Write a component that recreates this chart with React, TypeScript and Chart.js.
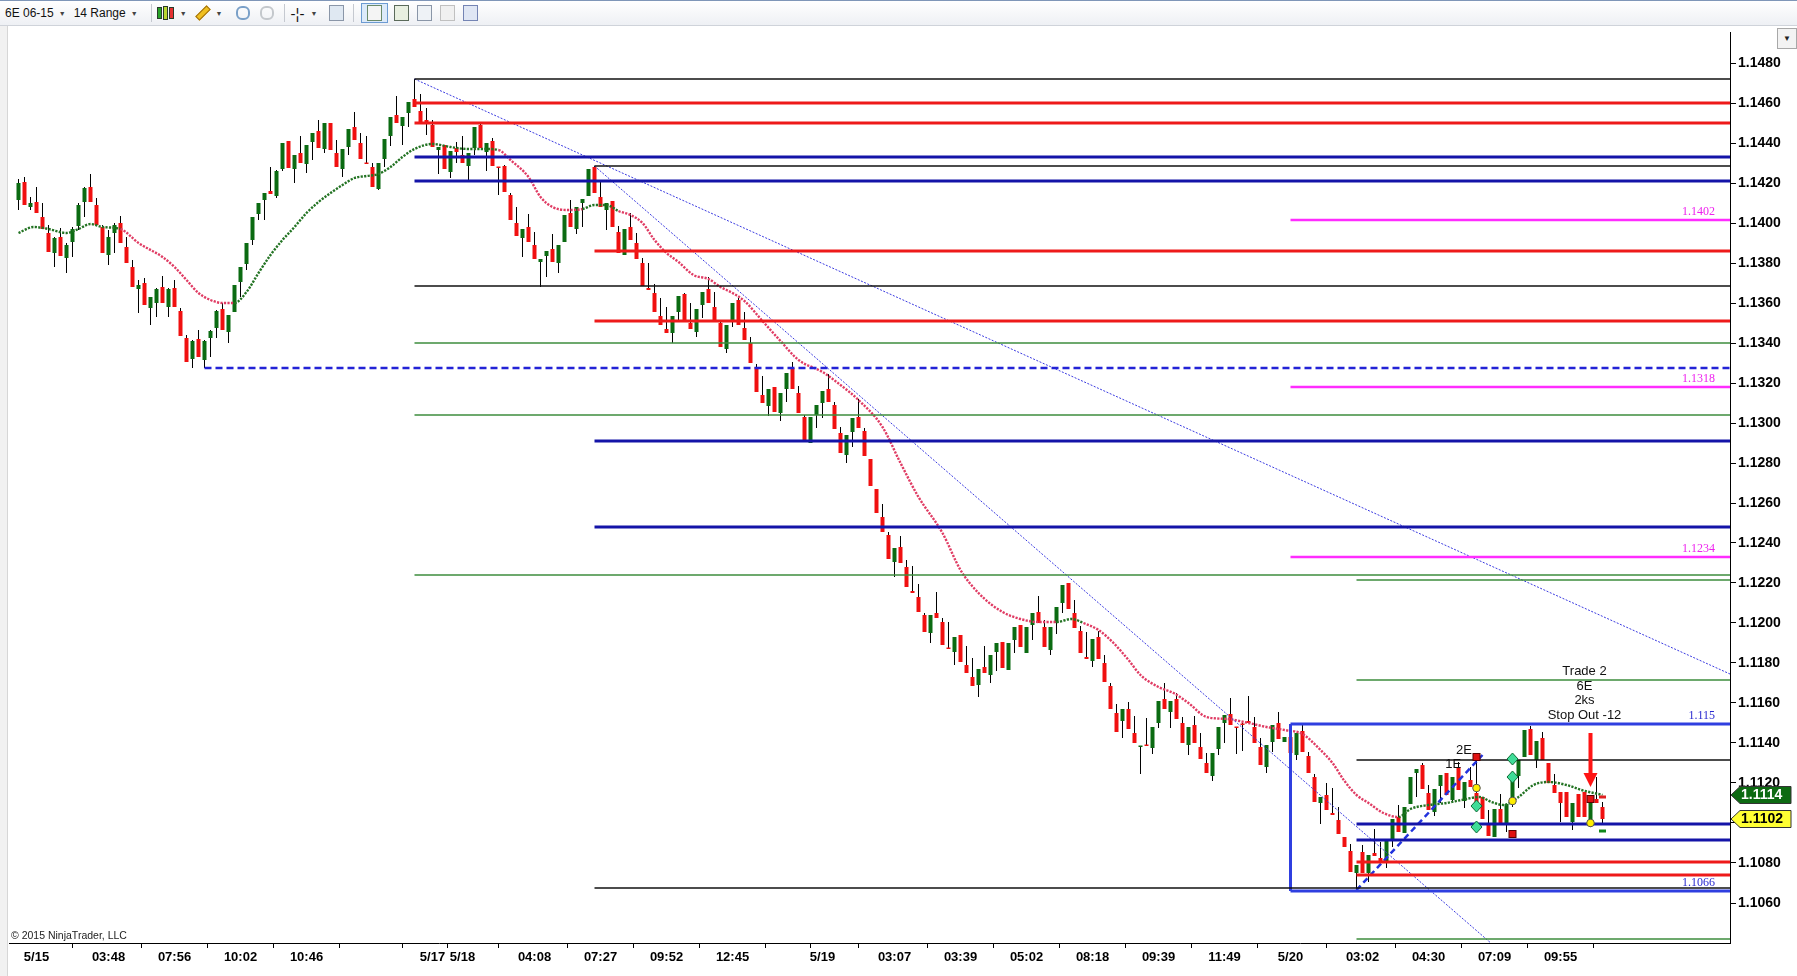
import { useEffect, useRef } from "react";
import { Chart, registerables } from "chart.js";

Chart.register(...registerables);

const BASE = 1.1;
const PIP = 0.0001;
const toPrice = (pips: number) => BASE + pips * PIP;

const X_MIN = -1.5833;
const X_MAX = 285.25;
const Y_MIN = 1.104;
const Y_MAX = 1.14955;

// time axis: bar index of each tick and its label
const X_TICK_BARS = [3, 15, 26, 37, 48, 59, 69, 74, 86, 97, 108, 119, 130, 134, 146, 157, 168, 179, 190, 201, 212, 224, 235, 246, 257];
const X_TICK_LABELS = ["5/15", "03:48", "07:56", "10:02", "10:46", "", "5/17", "5/18", "04:08", "07:27", "09:52", "12:45", "", "5/19", "03:07", "03:39", "05:02", "08:18", "09:39", "11:49", "5/20", "03:02", "04:30", "07:09", "09:55"];

const Y_TICKS = [1.106, 1.108, 1.11, 1.112, 1.114, 1.116, 1.118, 1.12, 1.122, 1.124, 1.126, 1.128, 1.13, 1.132, 1.134, 1.136, 1.138, 1.14, 1.142, 1.144, 1.146, 1.148];

const OPEN = [
  411.5, 420.5, 408, 410.5, 403, 395, 385, 393, 382.5, 390.5,
  398.5, 410.5, 418, 409, 398, 384, 395, 400, 388, 378,
  367, 370, 357.5, 360, 368, 358, 367.5, 356, 342.5, 332,
  342, 331.5, 342.5, 347.5, 357, 345.5, 355.5, 370.5, 379.5, 391.5,
  404.5, 411.5, 416, 413.5, 427, 441, 427, 435, 429.5, 440.5,
  446, 437, 450, 435, 427, 438, 448, 440, 430, 428,
  417, 432, 443.5, 454, 448.5, 455, 462, 456, 451.5, 449,
  436.5, 439, 425.5, 437.5, 434, 428.5, 437.5, 449, 435.5, 441,
  428, 428.5, 414, 400, 392.5, 398, 389, 380.5, 383.5, 387,
  380, 390.5, 405, 397, 410, 413.5, 428, 413, 406.5, 411,
  395.5, 384, 398, 390, 380, 367.5, 365, 353.5, 347, 345,
  355.5, 364.5, 350, 345.5, 359, 367, 358, 350, 337, 351,
  361.5, 347.5, 340, 328, 314, 308.5, 318, 305, 317, 327.5,
  315, 303, 290, 304, 310, 317, 309, 295, 284, 295.5,
  303, 296, 282, 267, 253, 244, 230.5, 238, 228, 216,
  213, 204, 195, 205, 200.5, 187.5, 185.5, 194, 179, 173,
  169, 178, 174, 185.5, 190.5, 176.5, 191.5, 199, 185, 199,
  205.5, 198, 186.5, 200, 210, 220, 205, 196, 183, 181,
  193, 180, 168.5, 155, 151, 157, 145, 138, 139, 137.5,
  150, 162, 155.5, 162, 150, 139, 149, 138, 130, 123.5,
  137, 150, 154.5, 148, 149.5, 151, 148, 138, 128, 140.5,
  150, 140.5, 143, 134, 146, 133.5, 123, 110, 114, 105,
  101.5, 93, 86, 75, 85.5, 75, 85, 82.5, 81, 92,
  103, 95, 109.5, 125, 129, 115, 105.5, 118.5, 125, 111.5,
  128, 111, 121.5, 115, 113, 100, 93, 107, 100, 111.5,
  123.5, 133, 147, 131.5, 142.5, 130, 119, 115.5, 115.5, 100.5,
  114.5, 115.5, 100, 112, 108,
];

const HIGH = [
  422, 423, 413, 418, 410, 399, 393, 397.5, 390, 398,
  410, 418, 424.5, 412.5, 399, 396.5, 400, 403.5, 393, 381.5,
  371.5, 372.5, 363, 367.5, 373.5, 367.5, 371.5, 357.5, 344, 341.5,
  346.5, 341.5, 346.5, 356.5, 360, 354, 369, 378, 390, 403,
  410, 415, 428, 426.5, 440, 441, 434, 443.5, 439, 445,
  451.5, 450, 450, 441.5, 437, 447, 455.5, 445, 443.5, 430,
  430, 442, 453, 463.5, 453, 460.5, 472, 464.5, 457.5, 451.5,
  438, 439, 436, 440.5, 443.5, 435, 448, 450, 440, 442.5,
  428, 429, 415, 408, 397, 404.5, 395.5, 382, 386, 394.5,
  389, 404, 411.5, 408, 412, 427, 428.5, 421.5, 410, 411,
  398.5, 397, 405, 395, 382.5, 380, 369.5, 362.5, 358, 353.5,
  363.5, 365, 360, 357, 365.5, 373, 365.5, 350.5, 349, 360,
  362.5, 355.5, 343, 329.5, 323.5, 317, 318, 315, 325, 330.5,
  318.5, 304, 303, 309, 316, 324.5, 310.5, 298, 294, 302.5,
  312, 297.5, 282, 267, 259.5, 245.5, 237.5, 243.5, 231.5, 228.5,
  219.5, 205, 204, 215.5, 202.5, 200.5, 193, 194, 188.5, 182.5,
  177, 188.5, 184, 190, 190.5, 190, 198, 199, 198, 205,
  213.5, 201.5, 198, 208, 219, 220, 211.5, 198.5, 195.5, 192,
  196, 184, 170, 159.5, 157, 160.5, 153.5, 138.5, 152.5, 148,
  161, 170, 161, 165, 153, 148, 153.5, 145, 135, 135,
  148, 154, 162.5, 148, 150, 163.5, 153, 142.5, 139, 149,
  155.5, 143, 143, 145, 149, 135.5, 124.5, 113, 120, 117.5,
  108, 93, 89.5, 79, 89, 84, 97, 90.5, 91, 102,
  109, 108, 123, 127, 130, 119, 117, 124, 125, 123,
  130.5, 120.5, 128, 133, 113, 106.5, 107, 114.5, 109.5, 124,
  131.5, 146.5, 148.5, 141, 145.5, 130, 124.5, 115.5, 115.5, 110,
  114.5, 115.5, 113, 123, 110.5,
];

const LOW = [
  406.5, 409, 406.5, 405, 397, 385.5, 378, 383.5, 375, 383,
  396.5, 403, 410.5, 399, 385, 379, 385, 390, 380, 368,
  355, 359, 349, 353, 360, 353, 358, 343.5, 330.5, 327.5,
  333, 327.5, 333, 342.5, 346.5, 340, 355.5, 363, 376.5, 389,
  401.5, 401.5, 414.5, 412.5, 426, 427.5, 420, 430, 425, 431.5,
  437.5, 435, 436.5, 428, 423, 434, 441.5, 432, 429.5, 418,
  416.5, 428, 438.5, 450, 439, 448, 458, 450, 444, 438,
  424.5, 427, 422.5, 430, 430, 420.5, 434, 437.5, 426, 428.5,
  414, 415.5, 401.5, 393.5, 383, 390.5, 382, 368, 373, 380.5,
  375, 390.5, 398, 394.5, 398, 413.5, 415, 408, 396.5, 398,
  385, 384, 391.5, 382, 368.5, 366.5, 355.5, 349, 345, 340,
  350.5, 351.5, 347, 343, 352.5, 360, 351.5, 338, 335, 348,
  349, 341.5, 330, 315.5, 310, 303.5, 305.5, 301, 310.5, 317,
  305, 290.5, 290, 297.5, 302.5, 310.5, 297, 285, 280, 288,
  297.5, 283.5, 268.5, 255, 245.5, 232, 223, 230, 218, 215,
  205.5, 195.5, 190, 202.5, 189, 187, 179, 180.5, 175, 168.5,
  163, 175, 170, 176, 177.5, 176.5, 185, 188, 185, 191.5,
  200, 188, 184, 194.5, 205, 207, 197.5, 185, 182, 178,
  182, 170.5, 157, 145.5, 142.5, 147, 140, 124.5, 138.5, 134.5,
  147.5, 157, 147.5, 152, 140, 134, 140, 132, 125, 121,
  134, 140, 149, 134.5, 136, 150, 140, 129, 125, 135.5,
  142, 140.5, 135, 131.5, 135.5, 125, 110.5, 99.5, 106.5, 104,
  94.5, 88, 75.5, 66.5, 75, 70.5, 83.5, 80, 77.5, 88,
  95.5, 95, 109.5, 113, 117, 106.5, 103.5, 110, 114, 110,
  116.5, 107.5, 118, 108, 102, 93.5, 93, 100, 95.5, 108,
  117.5, 133, 134, 127.5, 131.5, 120, 115, 100.5, 103, 96.5,
  103, 103, 98, 110, 100,
];

const CLOSE = [
  420, 409, 410, 405, 397, 385.5, 392.5, 383.5, 389, 397,
  409, 417.5, 410.5, 399, 385, 393, 399, 390, 380, 368,
  369, 359, 363, 367, 360, 367, 358, 343.5, 330.5, 341,
  333, 341, 346, 356, 346.5, 354, 369, 378, 390, 403,
  410, 415, 414.5, 426, 440, 427.5, 434, 430, 439, 445,
  437.5, 450, 436.5, 428, 437, 447, 441.5, 432, 429.5, 418,
  430, 442, 453, 450, 453, 460.5, 458, 450, 450.5, 438,
  438, 427, 436, 435.5, 430, 435, 448, 437.5, 440, 428.5,
  427.5, 415.5, 401.5, 393.5, 397, 390.5, 382, 382, 386, 380.5,
  389, 404, 398, 408, 412, 427, 415, 408, 410, 398,
  385, 397, 391.5, 382, 368.5, 366.5, 355.5, 349, 345, 353.5,
  363.5, 351.5, 347, 357, 365.5, 360, 351.5, 338, 349, 360,
  349, 341.5, 330, 315.5, 310, 317, 305.5, 315, 325, 317,
  305, 290.5, 303, 309, 316, 310.5, 297, 285, 294, 302.5,
  297.5, 283.5, 268.5, 255, 245.5, 232, 237.5, 230, 218, 215,
  205.5, 195.5, 204, 202.5, 189, 187, 193, 180.5, 175, 168.5,
  177, 175, 184, 190, 177.5, 190, 198, 188, 198, 205,
  200, 188, 198, 208, 219, 207, 197.5, 185, 182, 192,
  182, 170.5, 157, 145.5, 157, 147, 140, 138.5, 138.5, 148,
  161, 157, 161, 152, 140, 148, 140, 132, 125, 135,
  148, 154, 149, 147.5, 149, 150, 140, 129, 139, 149,
  142, 143, 135, 145, 135.5, 125, 110.5, 113, 106.5, 104,
  94.5, 88, 75.5, 79, 75, 84, 83.5, 80, 91, 102,
  95.5, 108, 123, 127, 117, 106.5, 117, 124, 114, 123,
  116.5, 120.5, 118, 108, 102, 93.5, 107, 100, 109.5, 123,
  131.5, 146.5, 134, 141, 131.5, 120, 115, 110, 103, 110,
  103, 103, 112, 110, 102,
];

// dotted moving average, read at sparse bars; g = rising (green), r = falling (red)
const MA_BARS = [
  0, 2.5, 5, 8, 10, 12, 14, 17, 20, 24, 26, 28, 30, 32, 34, 36, 38, 40, 42, 44,
  46, 48, 50, 52, 54, 56, 58, 60, 62, 64, 66, 69, 72, 75, 78, 80, 82, 85, 87, 89,
  91.5, 94, 96, 98, 100, 102, 104, 106, 108, 110, 112.5, 115, 117, 119, 121, 124, 127, 130, 134, 137,
  140, 144, 147, 150, 154, 157, 160, 164, 167, 170, 173, 175.5, 177.5, 180, 182.5, 185, 187, 190, 192.5, 195,
  198, 201.5, 205, 208, 211, 214, 217, 219, 221, 223, 225, 227.5, 230, 232, 235, 238, 240.5, 243.5, 245.5, 247.5,
  250, 252.5, 255, 258, 260.5, 264,
];
const MA_PIPS = [
  395, 398, 397, 395, 397, 399.5, 398, 397, 390, 383, 378, 371.5, 365, 361.5, 360, 360, 365.5, 375, 384, 391.5,
  398, 405, 410.5, 415, 419, 422.5, 423.5, 424.5, 428, 433, 437, 439.5, 438, 437, 437, 436.5, 431.5, 423, 413, 408,
  406.5, 407, 409, 409, 406, 404, 400, 391.5, 385, 380.5, 374, 372, 368, 365, 361, 351, 341, 331.5, 325.5, 319,
  311.5, 298, 280, 263, 245, 226.5, 215, 205.5, 202, 200.5, 200.5, 202, 200, 196.5, 190, 181.5, 174, 168, 165, 160,
  153, 152, 150, 148, 146.5, 144.5, 136.5, 130, 121, 114, 110, 105, 103, 107, 109, 110, 111.5, 113, 110.5, 109,
  113, 119, 120.5, 119, 116.5, 114,
];
const MA_SIDE =
  "ggggggg" + "rrrrrrrr" + "ggggg" + "ggggg" + "ggggg" + "ggggg" + "rrrrrr" + "ggg" +
  "rrrrr" + "rrrrr" + "rrrrr" + "rrrrr" + "rrrrr" + "r" + "gg" +
  "rrrrr" + "rrrrr" + "rrrrr" + "rrrrr" + "ggggg" + "ggggg" + "gggg";

// horizontal drawing levels: price, first bar, line kind
const LEVEL_PIPS = [472, 460, 450, 433, 428.5, 421, 401.5, 386, 368.5, 351, 340, 327.5, 318, 304, 291, 248, 233, 224, 221.5, 171.5, 149.5, 131.5, 99.5, 91.5, 80.5, 74, 67.5, 66, 42];
const LEVEL_FROM = [66, 66, 66, 66, 96, 66, 212, 96, 66, 96, 66, 31, 212, 66, 96, 96, 212, 66, 223, 223, 212, 223, 223, 223, 223, 223, 96, 212, 223];
const LEVEL_KIND = ["black", "red", "red", "blue", "black", "blue", "magenta", "red", "black", "red", "green", "dashed", "magenta", "green", "blue", "blue", "magenta", "green", "green", "green", "box", "black", "blue", "blue", "red", "red", "black", "box", "green"];

const LEVEL_TAG_TEXT = ["1.1402", "1.1318", "1.1234", "1.115", "1.1066"];
const LEVEL_TAG_PIPS = [401.5, 318, 233, 149.5, 66];
const LEVEL_TAG_KIND = ["magenta", "magenta", "magenta", "box", "box"];

const BOX_BAR = 212;
const BOX_LOW = 66;
const BOX_HIGH = 149.5;

// trend lines: [bar, pips] start and end
const TREND_BARS = [[66, X_MAX], [96, 250], [223, 244]];
const TREND_PIPS = [[472, 174.5], [428.5, 28], [66.5, 134]];
const TREND_KIND = ["thin", "thin", "thick"];

// trade marks
const TRADE_TEXT = ["Trade 2", "6E", "2ks", "Stop Out -12"];
const TRADE_BAR = 261;
const TRADE_PIPS = [176, 168.5, 161.5, 154];
const ENTRY_TEXT = ["2E", "1E"];
const ENTRY_BARS = [240.9, 239.1];
const ENTRY_PIPS = [136.5, 129.5];
const DIAMOND_BARS = [243, 243, 249, 249];
const DIAMOND_PIPS = [108.5, 98, 132, 123];
const DOT_BARS = [243, 249, 262];
const DOT_PIPS = [117.5, 111, 100];
const SQUARE_BARS = [243, 249, 262];
const SQUARE_PIPS = [133, 94.5, 112];
const ARROW_BAR = 262;
const ARROW_PIPS = [145, 118];
const DASH_BAR = 264;
const DASH_PIPS = [113, 96];
const TAG_TEXT = ["1.1114", "1.1102"];
const TAG_PIPS = [114, 102];

const UP = "#0b6b12";
const DOWN = "#f01010";
const MA_UP = "#237323";
const MA_DOWN = "#e03c64";

const KIND_STYLE: Record<string, { color: string; width: number; dash?: number[] }> = {
  red: { color: "#ee1a1a", width: 3 },
  blue: { color: "#1414a8", width: 3 },
  black: { color: "#111111", width: 1.4 },
  green: { color: "#3c8c3c", width: 1.3 },
  magenta: { color: "#ff2cff", width: 2.5 },
  dashed: { color: "#2323d6", width: 2.6, dash: [7, 4] },
  box: { color: "#2f3fe0", width: 3 },
  thin: { color: "#3a3ae0", width: 1, dash: [2, 1.5] },
  thick: { color: "#2233dd", width: 2.5, dash: [6, 4] },
};

const overlayPlugin = {
  id: "tradeOverlay",
  afterDatasetsDraw(chart: any) {
    const { ctx, chartArea } = chart;
    const X = (b: number) => chart.scales.x.getPixelForValue(b);
    const Y = (p: number) => chart.scales.y.getPixelForValue(toPrice(p));
    ctx.save();

    ctx.font = "12px 'Liberation Serif', 'DejaVu Serif', serif";
    ctx.textAlign = "right";
    ctx.textBaseline = "bottom";
    LEVEL_TAG_TEXT.forEach((t, k) => {
      ctx.fillStyle = LEVEL_TAG_KIND[k] === "magenta" ? "#ee22ee" : "#2a2ad0";
      ctx.fillText(t, chartArea.right - 15, Y(LEVEL_TAG_PIPS[k]) - 2);
    });

    ctx.fillStyle = "#111";
    ctx.font = "13px 'Liberation Sans', Arial, sans-serif";
    ctx.textAlign = "center";
    ctx.textBaseline = "middle";
    TRADE_TEXT.forEach((t, k) => ctx.fillText(t, X(TRADE_BAR), Y(TRADE_PIPS[k])));
    ENTRY_TEXT.forEach((t, k) => ctx.fillText(t, X(ENTRY_BARS[k]), Y(ENTRY_PIPS[k])));

    // arrow
    const ax = X(ARROW_BAR);
    const ay0 = Y(ARROW_PIPS[0]);
    const ay1 = Y(ARROW_PIPS[1]);
    ctx.fillStyle = "#ff1414";
    ctx.fillRect(ax - 2, ay0, 4, ay1 - ay0 - 12);
    ctx.beginPath();
    ctx.moveTo(ax - 7, ay1 - 14);
    ctx.lineTo(ax + 7, ay1 - 14);
    ctx.lineTo(ax, ay1);
    ctx.closePath();
    ctx.fill();

    DIAMOND_BARS.forEach((b, k) => {
      const cx = X(b);
      const cy = Y(DIAMOND_PIPS[k]);
      ctx.beginPath();
      ctx.moveTo(cx, cy - 6);
      ctx.lineTo(cx + 5.5, cy);
      ctx.lineTo(cx, cy + 6);
      ctx.lineTo(cx - 5.5, cy);
      ctx.closePath();
      ctx.fillStyle = "#3fdc98";
      ctx.fill();
      ctx.strokeStyle = "#0d6b34";
      ctx.lineWidth = 1;
      ctx.stroke();
    });
    DOT_BARS.forEach((b, k) => {
      ctx.beginPath();
      ctx.arc(X(b), Y(DOT_PIPS[k]), 3.8, 0, Math.PI * 2);
      ctx.fillStyle = "#ffee00";
      ctx.fill();
      ctx.strokeStyle = "#555";
      ctx.lineWidth = 1;
      ctx.stroke();
    });
    SQUARE_BARS.forEach((b, k) => {
      const cx = X(b);
      const cy = Y(SQUARE_PIPS[k]);
      ctx.fillStyle = "#e01212";
      ctx.fillRect(cx - 3.5, cy - 3.5, 7, 7);
      ctx.strokeStyle = "#5a0000";
      ctx.lineWidth = 1;
      ctx.strokeRect(cx - 3.5, cy - 3.5, 7, 7);
    });
    ctx.fillStyle = "#e02020";
    ctx.fillRect(X(DASH_BAR) - 3.5, Y(DASH_PIPS[0]) - 1.5, 7, 3);
    ctx.fillStyle = "#11881a";
    ctx.fillRect(X(DASH_BAR) - 3.5, Y(DASH_PIPS[1]) - 1.5, 7, 3);

    ctx.fillStyle = "#222";
    ctx.font = "10.5px 'Liberation Sans', Arial, sans-serif";
    ctx.textAlign = "left";
    ctx.textBaseline = "middle";
    ctx.fillText("© 2015 NinjaTrader, LLC", chartArea.left + 2, chartArea.bottom - 7);
    ctx.restore();
  },
  afterDraw(chart: any) {
    const { ctx, chartArea } = chart;
    const Y = (p: number) => chart.scales.y.getPixelForValue(toPrice(p));
    const fills = ["#0d6a12", "#ffff33"];
    const inks = ["#ffffff", "#000000"];
    ctx.save();
    TAG_TEXT.forEach((t, k) => {
      const cy = Y(TAG_PIPS[k]);
      const l = chartArea.right + 1;
      ctx.beginPath();
      ctx.moveTo(l, cy);
      ctx.lineTo(l + 9, cy - 8.5);
      ctx.lineTo(l + 60, cy - 8.5);
      ctx.lineTo(l + 60, cy + 8.5);
      ctx.lineTo(l + 9, cy + 8.5);
      ctx.closePath();
      ctx.fillStyle = fills[k];
      ctx.fill();
      ctx.strokeStyle = "#333";
      ctx.lineWidth = 1;
      ctx.stroke();
      ctx.fillStyle = inks[k];
      ctx.font = "bold 14px 'Liberation Sans', Arial, sans-serif";
      ctx.textAlign = "left";
      ctx.textBaseline = "middle";
      ctx.fillText(t, l + 10, cy + 0.5);
    });
    ctx.restore();
  },
};

function Toolbar() {
  const caret = <span style={{ fontSize: 7, color: "#444", margin: "0 8px 0 5px" }}>▼</span>;
  const sep = <span style={{ display: "inline-block", width: 1, height: 18, background: "#c5c9d0", margin: "0 5px" }} />;
  const candle = (c: string, h: number) => (
    <span style={{ display: "inline-block", width: 3, height: h, background: c, border: "1px solid #2a3a2a", margin: "0 0.5px", verticalAlign: "middle" }} />
  );
  const box = (bg: string, border = "#8a96a8") => (
    <span style={{ display: "inline-block", width: 13, height: 14, background: bg, border: `1px solid ${border}`, margin: "0 4px", verticalAlign: "middle" }} />
  );
  return (
    <div style={{ position: "absolute", left: 0, top: 0, width: 1797, height: 26, boxSizing: "border-box", borderTop: "1px solid #7f96b8", borderBottom: "1px solid #cfd3da", background: "linear-gradient(#ffffff, #eef0f4)", display: "flex", alignItems: "center", font: "12px 'Liberation Sans', Arial, sans-serif", color: "#111", whiteSpace: "nowrap" }}>
      <span style={{ marginLeft: 5 }}>6E 06-15</span>
      {caret}
      <span>14 Range</span>
      {caret}
      {sep}
      <span style={{ display: "inline-flex", alignItems: "center" }}>{candle("#27a327", 10)}{candle("#b8d630", 12)}{candle("#e43030", 10)}</span>
      {caret}
      <span style={{ display: "inline-block", width: 14, height: 4, background: "#f0c020", border: "1px solid #a07010", transform: "rotate(-45deg)" }} />
      {caret}
      <span style={{ display: "inline-block", width: 10, height: 10, borderRadius: 6, border: "2px solid #7aa0c8", margin: "0 5px" }} />
      <span style={{ display: "inline-block", width: 10, height: 10, borderRadius: 6, border: "2px solid #c4c8cc", margin: "0 5px" }} />
      {sep}
      <span style={{ fontSize: 15, margin: "0 1px" }}>-¦-</span>
      {caret}
      {box("#dfe8f2")}
      {sep}
      <span style={{ display: "inline-block", padding: 1, border: "1px solid #6c9bd2", background: "#dceafa", margin: "0 2px" }}>{box("#f4f4f4", "#6a8a6a")}</span>
      {box("#e8efe0", "#5a6a5a")}
      {box("#eef2f6")}
      {box("#f0f0f0", "#c0c0c0")}
      {box("#dfe6f4", "#7484b4")}
    </div>
  );
}

export default function App() {
  const canvasRef = useRef<HTMLCanvasElement>(null);

  useEffect(() => {
    if (!canvasRef.current) return;
    const bars = OPEN.map((_, i) => i);

    const levelSets = LEVEL_PIPS.map((p, k) => {
      const st = KIND_STYLE[LEVEL_KIND[k]];
      return {
        type: "line",
        data: [{ x: LEVEL_FROM[k], y: toPrice(p) }, { x: X_MAX, y: toPrice(p) }],
        borderColor: st.color,
        borderWidth: st.width,
        borderDash: st.dash || [],
        pointRadius: 0,
        order: 1,
      };
    });
    const trendSets = TREND_BARS.map((b, k) => {
      const st = KIND_STYLE[TREND_KIND[k]];
      return {
        type: "line",
        data: [{ x: b[0], y: toPrice(TREND_PIPS[k][0]) }, { x: b[1], y: toPrice(TREND_PIPS[k][1]) }],
        borderColor: st.color,
        borderWidth: st.width,
        borderDash: st.dash || [],
        pointRadius: 0,
        order: 1,
      };
    });
    const boxEdge = {
      type: "line",
      data: [{ x: BOX_BAR, y: toPrice(BOX_LOW) }, { x: BOX_BAR, y: toPrice(BOX_HIGH) }],
      borderColor: KIND_STYLE.box.color,
      borderWidth: KIND_STYLE.box.width,
      pointRadius: 0,
      order: 1,
    };
    const maSet = {
      type: "line",
      data: MA_BARS.map((b, k) => ({ x: b, y: toPrice(MA_PIPS[k]) })),
      borderColor: MA_DOWN,
      borderWidth: 2.4,
      borderDash: [2.2, 1.3],
      borderCapStyle: "butt",
      cubicInterpolationMode: "monotone",
      segment: {
        borderColor: (c: any) => (MA_SIDE[c.p0DataIndex] === "g" ? MA_UP : MA_DOWN),
      },
      pointRadius: 0,
      order: 2,
    };

    const chart = new Chart(canvasRef.current, {
      type: "bar",
      data: {
        datasets: [
          ...levelSets,
          ...trendSets,
          boxEdge,
          maSet,
          {
            type: "bar",
            data: bars.map((i) => ({ x: i, y: [toPrice(OPEN[i]), toPrice(CLOSE[i])] })),
            backgroundColor: bars.map((i) => (CLOSE[i] >= OPEN[i] ? UP : DOWN)),
            barThickness: 4,
            minBarLength: 1.5,
            grouped: false,
            inflateAmount: 0,
            borderWidth: 0,
            order: 5,
          },
          {
            type: "bar",
            data: bars.map((i) => ({ x: i, y: [toPrice(LOW[i]), toPrice(HIGH[i])] })),
            backgroundColor: "#000",
            barThickness: 1,
            grouped: false,
            inflateAmount: 0,
            borderWidth: 0,
            order: 6,
          },
        ] as any,
      },
      options: {
        animation: false,
        responsive: false,
        maintainAspectRatio: false,
        events: [],
        layout: { padding: { left: 9, top: 32, right: 0, bottom: 0 } },
        plugins: { legend: { display: false }, tooltip: { enabled: false } },
        elements: { point: { radius: 0 } },
        scales: {
          x: {
            type: "linear",
            min: X_MIN,
            max: X_MAX,
            offset: false,
            grid: { drawOnChartArea: false, drawTicks: true, tickLength: 5, color: "#000" },
            border: { display: true, color: "#000", width: 1 },
            afterBuildTicks: (s: any) => {
              s.ticks = X_TICK_BARS.map((v) => ({ value: v }));
            },
            afterFit: (s: any) => {
              s.height = 33;
            },
            ticks: {
              autoSkip: false,
              maxRotation: 0,
              padding: 2,
              color: "#000",
              font: { family: "'Liberation Sans', Arial, sans-serif", size: 13, weight: "bold" },
              callback: (v: any) => X_TICK_LABELS[X_TICK_BARS.indexOf(Number(v))] ?? "",
            },
          },
          y: {
            type: "linear",
            position: "right",
            min: Y_MIN,
            max: Y_MAX,
            grid: { drawOnChartArea: false, drawTicks: true, tickLength: 6, color: "#000" },
            border: { display: true, color: "#000", width: 1 },
            afterBuildTicks: (s: any) => {
              s.ticks = Y_TICKS.map((v) => ({ value: v }));
            },
            afterFit: (s: any) => {
              s.width = 67;
            },
            ticks: {
              padding: 2,
              color: "#000",
              font: { family: "'Liberation Sans', Arial, sans-serif", size: 14, weight: "bold" },
              callback: (v: any) => Number(v).toFixed(4),
            },
          },
        },
      } as any,
      plugins: [overlayPlugin],
    } as any);

    return () => chart.destroy();
  }, []);

  return (
    <div style={{ position: "fixed", left: 0, top: 0, width: 1797, height: 976, background: "#fff", overflow: "hidden" }}>
      <canvas ref={canvasRef} width={1797} height={976} style={{ position: "absolute", left: 0, top: 0, width: 1797, height: 976 }} />
      <Toolbar />
      <div style={{ position: "absolute", left: 0, top: 26, width: 7, height: 950, background: "#f1f1f1", borderRight: "1px solid #d6d6d6" }} />
      <div style={{ position: "absolute", left: 1777, top: 28, width: 18, height: 19, border: "1px solid #a8a8a8", background: "#f3f3f3", fontSize: 8, lineHeight: "19px", textAlign: "center", color: "#222" }}>▼</div>
    </div>
  );
}
